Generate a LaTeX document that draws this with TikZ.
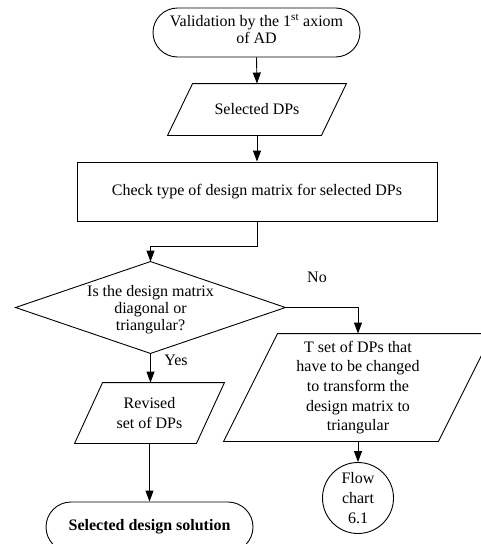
\documentclass[tikz,border=0pt]{standalone}
\usepackage{fontspec}
\setmainfont{Liberation Serif}
\usetikzlibrary{arrows.meta}

% slanted frame (data box) around a named node: top edge shifted right by #2
\newcommand\paraframe[2]{%
  \draw ([xshift=#2]#1.north west) -- (#1.north east)
        -- ([xshift=-#2]#1.south east) -- (#1.south west) -- cycle;}

\begin{document}
\begin{tikzpicture}[x=1pt,y=-1pt,
  line width=0.9pt,
  font=\fontsize{16}{17}\selectfont,
  flow/.style={-{Triangle[length=11pt,width=8pt]}},
  box/.style={inner sep=0pt, align=center},
  lines/.style={font=\fontsize{16}{#1}\selectfont}]

\useasboundingbox (0,0) rectangle (481,544);

% start terminal (outline) and its caption
\node[box, draw, rounded corners=24.5pt, minimum width=207pt, minimum height=49pt]
  (start) at (256.5,32.5) {};
\node[box] (starttext) at (256.5,29) {Validation by the 1\textsuperscript{st} axiom\\of AD};

% selected DPs
\node[box, minimum width=178pt, minimum height=51pt] (seldp) at (257,109.5) {Selected DPs};
\paraframe{seldp}{25pt}

% check step
\node[box, draw, minimum width=360pt, minimum height=59pt] (check) at (257,191.5)
  {Check type of design matrix for selected DPs};

% decision (outline) and its question
\node[box, minimum width=269pt, minimum height=91pt] (dia) at (150.5,307.5) {};
\draw (dia.north) -- (dia.east) -- (dia.south) -- (dia.west) -- cycle;
\node[box] (diatext) at (150.5,310) {Is the design matrix\\diagonal or\\triangular?};

% branch labels
\node (no) at (317,277) {No};
\node (yes) at (176,360) {Yes};

% revised set
\node[box, lines=19.5, minimum width=149pt, minimum height=60pt] (rev) at (149.5,413)
  {Revised\\set of DPs};
\paraframe{rev}{28pt}

% set of DPs to change
\node[box, lines=19.7, minimum width=268pt, minimum height=107pt] (tset) at (358,387.5)
  {T set of DPs that\\have to be changed\\to transform the\\design matrix to\\triangular};
\paraframe{tset}{54pt}

% connector to other chart
\node[box, draw, circle, lines=20, minimum size=71pt] (chart) at (358,498)
  {Flow\\chart\\6.1};

% end terminal
\node[box, draw, rounded corners=25pt, minimum width=207pt, minimum height=50pt]
  (final) at (149.5,527) {\bfseries Selected design solution};

% connectors
\coordinate (bend) at (257,246);
\draw[flow] (start.south) -- (seldp.north);
\draw[flow] (seldp.south) -- (check.north);
\draw[flow] (check.south) -- (bend) -| (dia.north);
\draw[flow] (dia.east) -| (tset.north);
\draw[flow] (dia.south) -- (dia.south |- rev.north);
\draw[flow] (rev.south) -- (final.north);
\draw[flow] (tset.south) -- (chart.north);

\end{tikzpicture}
\end{document}
